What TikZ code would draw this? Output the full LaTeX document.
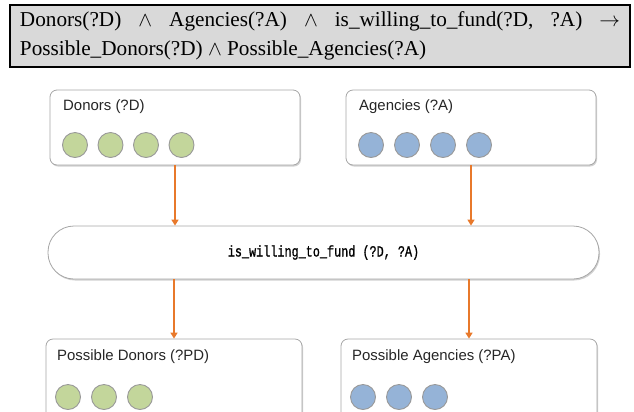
\documentclass[tikz,border=0pt]{standalone}
\usepackage{fontspec}
\setmainfont{Liberation Serif}
\newfontfamily\lblfont{Liberation Sans}
\newfontfamily\relfont[FakeStretch=0.76,FakeBold=1]{Liberation Mono}
\usepackage{tikz}
\usetikzlibrary{arrows.meta,shadows}
\tolerance=10000
\hbadness=10000
\definecolor{donorgreen}{HTML}{C3D69B}
\definecolor{agencyblue}{HTML}{95B3D7}
\definecolor{linkorange}{HTML}{E8792B}
\definecolor{boxgray}{HTML}{A6A6A6}
\definecolor{rulegray}{HTML}{D9D9D9}
\tikzset{
  rulebox/.style={draw=black, line width=2bp, fill=rulegray, inner xsep=10bp, inner ysep=0pt,
    text width=600bp, align=justify, minimum width=620bp, minimum height=62bp,
    font=\fontsize{21.3}{28.5}\selectfont},
  setbox/.style={draw=boxgray, line width=0.8bp, fill=white, rounded corners=7bp,
    drop shadow={shadow xshift=1bp, shadow yshift=-1.5bp, fill=black!30, opacity=0.6}},
  relbox/.style={setbox, rounded corners=26bp, minimum width=551bp, minimum height=53bp,
    font=\relfont\fontsize{15.6}{17}\selectfont},
  setlbl/.style={anchor=west, inner sep=0pt, font=\lblfont\fontsize{15}{17}\selectfont, text=black!85},
  donor/.style={circle, draw=black!40, line width=0.9bp, fill=donorgreen,
    minimum size=25bp, inner sep=0pt},
  agency/.style={donor, fill=agencyblue},
  link/.style={-{Triangle[length=6bp,width=7bp]}, draw=linkorange, fill=linkorange, line width=1.8bp}
}

\begin{document}
\begin{tikzpicture}[x=1bp, y=-1bp]
  \clip (0,0) rectangle (634,411);
  % rule
  \node[rulebox] (rule) at (320,36)
    {Donors(?D) $\wedge$ Agencies(?A) $\wedge$ is\_willing\_to\_fund(?D, ?A) $\rightarrow$\linebreak
     Possible\_Donors(?D) $\wedge$ Possible\_Agencies(?A)};
  % input sets
  \node[setbox, minimum width=250bp, minimum height=75bp] (don) at (175,127.5) {};
  \node[setbox, minimum width=250bp, minimum height=75bp] (agc) at (471,127.5) {};
  \node[setlbl] (donlbl) at (63,107) {Donors (?D)};
  \node[setlbl] (agclbl) at (359,107) {Agencies (?A)};
  \foreach \i in {0,...,3}{
    \node[donor] (d\i) at ({75+35.5*\i},145) {};
    \node[agency] (a\i) at ({371+36*\i},145) {};
  }
  % relation
  \node[relbox] (fund) at (323.5,252.5) {is\_willing\_to\_fund (?D, ?A)};
  % output sets
  \node[setbox, minimum width=256bp, minimum height=90bp] (pdon) at (174,384) {};
  \node[setbox, minimum width=256bp, minimum height=90bp] (pagc) at (469,384) {};
  \node[setlbl] (pdonlbl) at (57,357) {Possible Donors (?PD)};
  \node[setlbl] (pagclbl) at (352,357) {Possible Agencies (?PA)};
  \foreach \i in {0,...,2}{
    \node[donor] (pd\i) at ({68+36*\i},397) {};
    \node[agency] (pa\i) at ({363+36*\i},397) {};
  }
  % links
  \draw[link] (don.south) -- (don.south |- fund.north);
  \draw[link] (agc.south) -- (agc.south |- fund.north);
  \draw[link] (fund.south -| pdon.north) -- (pdon.north);
  \draw[link] (fund.south -| pagc.north) -- (pagc.north);
\end{tikzpicture}
\end{document}
